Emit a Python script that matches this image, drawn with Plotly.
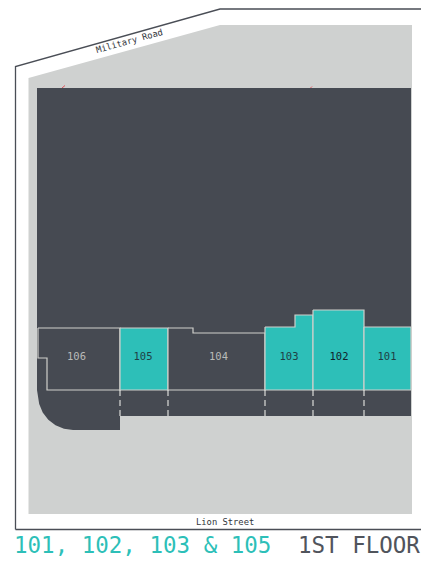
import plotly.graph_objects as go

TEAL = "#2dbfb8"
DARK = "#464a52"
SITE = "#cfd1d0"
EDGE = "#cfcfcb"
MONO = "DejaVu Sans Mono"

boundary_x = [15.5, 15.5, 220, 421]
boundary_y = [529.5, 66.5, 9, 9]
boundary_bottom_x = [15.5, 421]
boundary_bottom_y = [529.5, 529.5]

site_x = [28.5, 220, 412, 412, 28.5]
site_y = [78, 25, 25, 514, 514]

building_x = [37, 411, 411, 120, 120, 73, 64, 55.5, 48.3, 42.7, 39.2, 38, 37]
building_y = [88, 88, 416, 416, 430, 430, 428.8, 425.3, 419.7, 412.5, 404, 395, 390]

unit_names = ["106", "105", "104", "103", "102", "101"]
unit_x = [
    [38, 120, 120, 47, 47, 38, 38],
    [120, 168, 168, 120, 120],
    [168, 193, 193, 265, 265, 168, 168],
    [265, 295, 295, 313, 313, 265, 265],
    [313, 364, 364, 313, 313],
    [364, 411, 411, 364, 364],
]
unit_y = [
    [328, 328, 390, 390, 358, 358, 328],
    [328, 328, 390, 390, 328],
    [328, 328, 333, 333, 390, 390, 328],
    [327, 327, 315, 315, 390, 390, 327],
    [310, 310, 390, 390, 310],
    [327, 327, 390, 390, 327],
]
unit_fill = [DARK, TEAL, DARK, TEAL, TEAL, TEAL]
label_x = [76.5, 143, 218.5, 289, 339, 387]
label_y = [357.5] * 6
label_color = ["#b9bab8", "#1f3f45", "#b9bab8", "#1f3f45", "#10242a", "#1f3f45"]

divider_x = [120, 168, 265, 313, 364]
divider_top = 390
divider_bottom = 416

red_x = [[62, 65], [310.5, 312]]
red_y = [[88, 85.5], [88, 86.5]]

fig = go.Figure()


def poly(x, y, fill=None, line=None, width=1, dash=None, fillmode="toself"):
    fig.add_trace(go.Scatter(
        x=x, y=y, mode="lines", hoverinfo="skip", showlegend=False,
        fill=fillmode if fill else "none", fillcolor=fill,
        line=dict(color=line or "rgba(0,0,0,0)", width=width, dash=dash or "solid"),
    ))


poly(site_x, site_y, fill=SITE)
poly(boundary_x, boundary_y, line="#4a4e56", width=1.3)
poly(boundary_bottom_x, boundary_bottom_y, line="#4a4e56", width=1.3)
for rx, ry in zip(red_x, red_y):
    poly(rx, ry, line="#e0454f", width=0.9)
poly(building_x, building_y, fill=DARK)
for ux, uy, uf in zip(unit_x, unit_y, unit_fill):
    poly(ux, uy, fill=uf, line=EDGE, width=1.2)
for dx in divider_x:
    poly([dx, dx], [divider_top, divider_bottom], line="#e8e8e4", width=1.1, dash="6px,4px")

fig.add_trace(go.Scatter(
    x=label_x, y=label_y, mode="text", text=unit_names, hoverinfo="skip", showlegend=False,
    textposition="middle center",
    textfont=dict(family=MONO, size=10.5, color=label_color),
))

fig.add_annotation(x=129.5, y=41, xref="x", yref="y", text="Military Road", textangle=-15.5,
                   showarrow=False, font=dict(family=MONO, size=8.8, color="#33363c"))
fig.add_annotation(x=225, y=522, xref="x", yref="y", text="Lion Street", showarrow=False,
                   font=dict(family=MONO, size=8.8, color="#33363c"))
fig.add_annotation(x=11.5, y=544.5, xref="x", yref="y", text="101, 102, 103 &amp; 105", xanchor="left",
                   showarrow=False, font=dict(family=MONO, size=22.5, color=TEAL))
fig.add_annotation(x=421, xshift=1, y=544.5, xref="x", yref="y", text="1ST FLOOR", xanchor="right",
                   showarrow=False, font=dict(family=MONO, size=22.5, color="#50545c"))

fig.update_layout(
    width=421, height=561, margin=dict(l=0, r=0, t=0, b=0),
    paper_bgcolor="white", plot_bgcolor="white", hovermode=False,
    xaxis=dict(range=[0, 421], visible=False, fixedrange=True),
    yaxis=dict(range=[561, 0], visible=False, fixedrange=True),
)
fig.write_html("out.html", config={"displayModeBar": False},
               post_script="document.body.style.margin='0';")
